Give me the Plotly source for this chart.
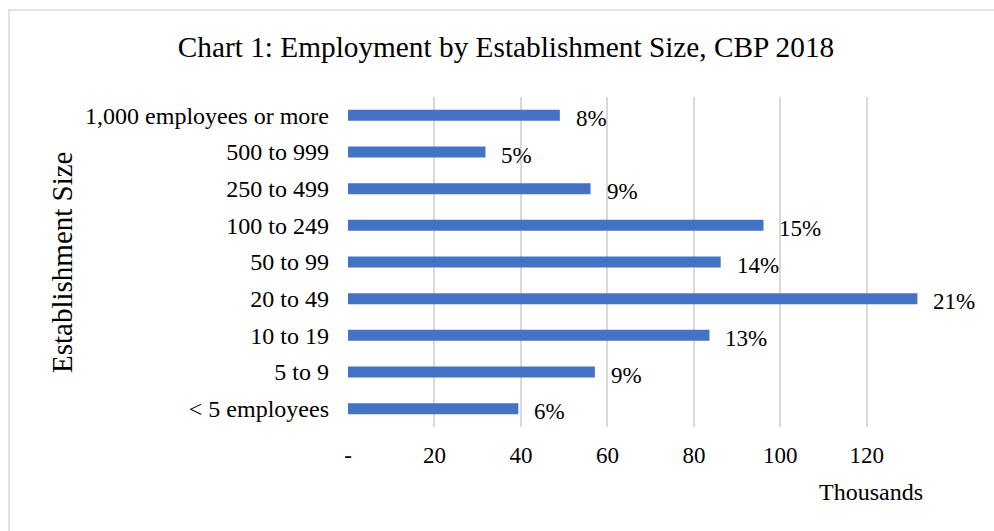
import plotly.graph_objects as go

categories = ["< 5 employees", "5 to 9", "10 to 19", "20 to 49", "50 to 99",
              "100 to 249", "250 to 499", "500 to 999", "1,000 employees or more"]
employment_thousands = [39.4, 57.1, 83.6, 131.7, 86.2, 96.1, 56.1, 31.8, 49.0]
pct_labels = ["6%", "9%", "13%", "21%", "14%", "15%", "9%", "5%", "8%"]
tick_values = [0, 20, 40, 60, 80, 100, 120]
tick_text = ["-", "20", "40", "60", "80", "100", "120"]

FONT = "Liberation Serif, Times New Roman, serif"
W, H = 994, 531
L, R, T, B = 348, 58, 97, 104
pw, ph = W - L - R, H - T - B

fig = go.Figure()
fig.add_trace(go.Bar(
    y=categories, x=employment_thousands, orientation="h",
    marker=dict(color="#4472C4", line=dict(width=0)),
    width=0.3, hoverinfo="skip",
))

for c, v, t in zip(categories, employment_thousands, pct_labels):
    fig.add_annotation(x=v, y=c, text=t, showarrow=False, xanchor="left", yanchor="middle",
                       xshift=14, yshift=-3, font=dict(family=FONT, size=23, color="#000000"))

# axis titles
fig.add_annotation(xref="paper", yref="paper", x=(62 - L) / pw, y=(H - B - 262) / ph,
                   xanchor="center", yanchor="middle",
                   text="Establishment Size", textangle=-90, showarrow=False,
                   font=dict(family=FONT, size=29, color="#000000"))
fig.add_annotation(xref="paper", yref="paper", x=(871 - L) / pw, y=(H - B - 492) / ph,
                   xanchor="center", yanchor="middle",
                   text="Thousands", showarrow=False,
                   font=dict(family=FONT, size=24, color="#000000"))

# outer border
fig.add_shape(type="rect", xref="paper", yref="paper",
              x0=(9 - L) / pw, x1=(1010 - L) / pw,
              y0=(H - B - 545) / ph, y1=(H - B - 10) / ph,
              line=dict(color="#d9d9d9", width=1.5), fillcolor="rgba(0,0,0,0)", layer="below")

fig.update_layout(
    width=W, height=H,
    margin=dict(l=L, r=R, t=T, b=B),
    paper_bgcolor="white", plot_bgcolor="white",
    showlegend=False,
    title=dict(text="Chart 1: Employment by Establishment Size, CBP 2018",
               x=506 / W, xanchor="center", y=1 - 47 / H, yanchor="middle",
               font=dict(family=FONT, size=29.3, color="#000000")),
    xaxis=dict(range=[0, 136], tickvals=tick_values, ticktext=tick_text,
               showgrid=True, gridcolor="#d9d9d9", gridwidth=2,
               zeroline=False, showline=False, ticks="",
               tickfont=dict(family=FONT, size=23, color="#000000"),
               ticklabelstandoff=12, fixedrange=True),
    yaxis=dict(categoryorder="array", categoryarray=categories,
               showgrid=False, zeroline=False, showline=False, ticks="",
               tickfont=dict(family=FONT, size=24, color="#000000"),
               ticklabelstandoff=18, fixedrange=True),
)

fig.write_html("out.html")
